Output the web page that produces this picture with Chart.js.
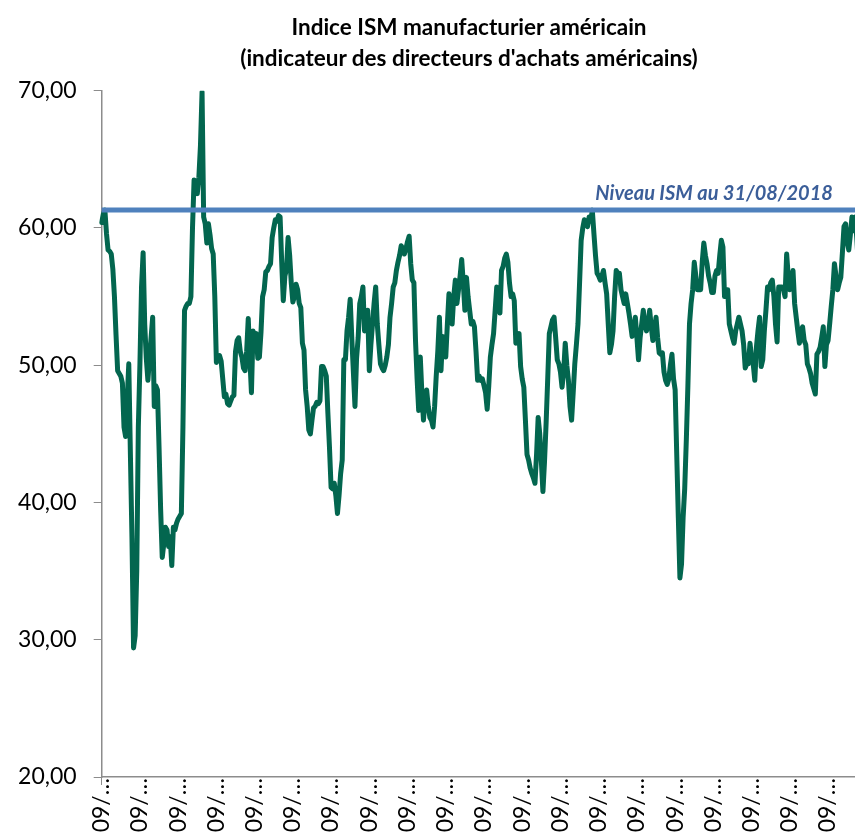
<!DOCTYPE html>
<html>
<head>
<meta charset="utf-8">
<script src="https://cdn.jsdelivr.net/npm/chart.js@4/dist/chart.umd.min.js"></script>
<style>
  html, body { margin: 0; padding: 0; background: #fff; }
  body { width: 855px; height: 832px; overflow: hidden; position: relative; }
  #titre {
    position: absolute; left: 0; top: 12px; width: 938px;
    text-align: center; font: bold 22.5px/30.7px Lato, sans-serif; color: #000;
  }
  #ismChart { position: absolute; left: 0; top: 0; }
</style>
</head>
<body>
<canvas id="ismChart" width="880" height="832"></canvas>
<div id="titre"></div>
<script>
// indice ISM manufacturier, mensuel, de 09/1978 à 08/2018
var anneeDebut = 1978;
var moisDebut = 9;
var ism = [
  60.4, 61.0, 61.3, 59.6,
  58.4, 58.3, 58.1, 57.0, 55.0, 52.2, 49.6, 49.4, 49.2, 48.7, 45.5, 44.8,
  47.5, 50.1, 43.6, 37.4,
  29.4, 30.3, 35.0, 45.5, 50.1, 55.7, 58.2, 53.0,
  50.5, 48.9, 50.5, 52.0, 53.5, 47.0, 48.5, 48.2, 44.0, 39.5, 36.0,
  37.0, 38.2, 38.0, 36.8, 37.5, 35.4, 38.2, 38.0, 38.5, 38.8, 39.0, 39.2,
  45.5, 54.0, 54.3, 54.5, 54.5, 55.0, 60.0, 63.5, 63.0, 62.5, 63.7, 66.0, 69.9,
  60.8, 60.3, 58.9, 60.3, 59.5, 58.5, 58.1, 55.0, 50.2,
  50.6, 50.7, 50.3, 49.0, 47.7, 47.9, 47.2, 47.1, 47.4, 47.7, 47.8,
  51.0, 51.8, 52.0, 51.0, 50.6, 49.8, 49.6, 51.0, 53.4, 50.5, 48.0, 52.5, 52.0, 52.3, 50.5, 50.6, 52.4,
  55.0, 55.5, 56.8, 56.9, 57.2, 57.4, 59.3, 60.0, 60.6, 60.5, 60.9, 60.8,
  57.5, 54.7, 56.5, 57.0, 59.3, 58.0, 56.0, 54.6, 55.0, 55.9, 55.5, 54.5, 54.2,
  51.6, 51.1, 48.2, 47.0, 45.3, 45.0, 46.0, 46.9, 47.0, 47.3, 47.2, 47.4, 49.9, 49.9, 49.6,
  49.2, 46.5, 44.0, 41.1, 41.0, 41.4, 40.5, 39.2, 40.5, 42.1, 43.1, 50.4, 50.4, 52.5, 53.5, 54.8,
  52.0, 49.5, 47.0, 50.5, 52.0, 54.5, 55.0, 55.7, 52.5, 53.0, 54.0, 49.6, 51.5, 53.0, 54.5, 55.7,
  53.0, 51.5, 50.1, 49.8, 49.6, 50.0, 50.6, 51.5, 53.5, 54.5, 55.7, 56.0, 56.9, 57.5, 58.0, 58.7, 58.5, 58.1, 58.5, 59.0, 59.4,
  57.4, 56.2, 56.0, 51.8, 49.0, 46.7, 50.6, 48.0, 46.0, 47.5, 48.2, 47.0, 46.2, 46.0, 45.5, 47.0, 49.2, 51.0, 53.5,
  49.6, 52.1, 51.5, 50.6, 53.0, 55.2, 54.0, 53.0, 55.0, 56.2, 54.5, 55.5, 56.5, 57.7, 56.0, 54.0, 56.4, 55.0, 54.0, 53.0, 53.2, 52.8, 51.0,
  48.9, 49.2, 48.9, 49.0, 48.5, 48.0, 46.8, 48.5, 50.6, 51.5, 52.3, 54.0, 55.7, 54.5, 53.8, 56.9, 57.2, 57.8, 58.1, 57.5, 56.0, 55.0, 55.2, 54.7,
  51.6, 52.0, 52.3, 49.9, 49.0, 48.4, 46.0, 43.5, 43.1, 42.5, 42.1, 41.8, 41.4, 43.5, 46.2, 45.0, 43.0, 40.8, 43.0, 45.8,
  49.0, 52.3, 52.8, 53.3, 53.5, 52.0, 50.4, 50.1, 49.5, 48.4, 49.5, 51.6, 50.0, 48.9, 47.0, 46.0, 48.0, 50.1, 51.5, 53.0,
  56.0, 59.1, 60.0, 60.6, 60.4, 60.1, 60.8, 60.5, 61.3, 59.6, 58.0, 56.7, 56.5, 56.2, 56.5, 56.9, 56.0, 55.2, 53.0, 50.9,
  51.5, 52.5, 55.0, 56.9, 56.7, 56.7, 55.5, 55.0, 54.5, 55.2, 54.5, 53.8, 53.0, 52.1, 52.5, 53.5, 52.0, 50.4, 52.0, 53.0,
  54.0, 53.0, 52.5, 53.0, 54.0, 52.8, 51.8, 52.5, 53.5, 52.0, 50.9, 50.8, 50.9, 49.5, 48.9, 48.6, 49.0, 50.0, 50.8, 49.0,
  48.2, 43.5, 38.9, 34.5, 35.5, 38.9, 41.0, 44.5, 48.5, 53.0, 54.5, 55.5, 57.5, 56.5, 55.5, 55.5, 55.5, 57.5, 58.9, 58.0,
  57.4, 56.5, 56.0, 55.3, 55.3, 56.5, 56.9, 56.7, 58.0, 59.1, 58.6, 55.0, 55.5, 55.5, 53.0, 52.5, 52.0, 51.6, 52.5, 53.0,
  53.5, 53.0, 52.5, 51.5, 49.8, 50.1, 50.1, 51.6, 50.5, 50.1, 48.9, 51.3, 52.5, 53.5, 49.9, 50.4, 52.5, 54.0, 55.7, 55.5,
  56.0, 56.2, 55.0, 53.0, 51.7, 55.7, 55.7, 55.7, 55.5, 55.0, 58.1, 56.5, 55.5, 56.0, 56.9, 54.5, 53.5, 52.5, 51.6, 52.5,
  52.8, 51.8, 51.5, 50.1, 49.8, 49.4, 48.7, 48.3, 47.9, 50.8, 51.0, 51.3, 52.0, 52.8, 49.9, 51.5, 51.8, 53.0, 54.3, 55.5,
  57.4, 56.5, 55.5, 56.0, 56.4, 58.2, 60.1, 60.3, 59.0, 58.4, 59.5, 60.8, 59.8, 60.8, 59.3, 57.3, 58.7, 60.2, 58.1, 61.3
];
var niveauActuel = 61.3;
var texteNiveau = 'Niveau ISM au 31/08/2018';
var titre = ['Indice ISM manufacturier américain', "(indicateur des directeurs d'achats américains)"];
var pasEtiquettes = 24;   // une étiquette tous les 2 ans
var yMin = 20, yMax = 70, yPas = 10;

var mois = ism.map(function (v, i) {
  var k = moisDebut - 1 + i;
  var mm = String(k % 12 + 1).padStart(2, '0');
  return mm + '/' + (anneeDebut + Math.floor(k / 12));
});

var gris = '#8c8c8c';

var etiquetteNiveau = {
  id: 'etiquetteNiveau',
  afterDatasetsDraw: function (chart) {
    var ctx = chart.ctx, x = chart.scales.x, y = chart.scales.y;
    ctx.save();
    ctx.font = 'italic bold 20px Lato';
    ctx.fillStyle = '#3B5E99';
    ctx.textAlign = 'right';
    ctx.textBaseline = 'alphabetic';
    ctx.fillText(texteNiveau, x.getPixelForValue(459), y.getPixelForValue(niveauActuel) - 10);
    ctx.restore();
  }
};

window.onload = function () {
  var t = document.getElementById('titre');
  titre.forEach(function (ligne) {
    var d = document.createElement('div');
    d.textContent = ligne;
    t.appendChild(d);
  });

  var chartArea = document.getElementById('ismChart').getContext('2d');
  var myChart = new Chart(chartArea, {
    type: 'line',
    data: {
      labels: mois,
      datasets: [{
        data: [{ x: mois[0], y: niveauActuel }, { x: mois[mois.length - 1], y: niveauActuel }],
        borderColor: '#4F81BD',
        borderWidth: 5,
        pointRadius: 0,
        order: 0
      }, {
        data: ism,
        borderColor: '#03664F',
        borderWidth: 5,
        borderJoinStyle: 'round',
        borderCapStyle: 'round',
        pointRadius: 0,
        tension: 0,
        order: 1
      }]
    },
    options: {
      responsive: false,
      animation: false,
      layout: { padding: { left: 0, right: 15.3, top: 90.7, bottom: 0 } },
      plugins: {
        legend: { display: false },
        tooltip: { enabled: false },
        title: { display: false }
      },
      scales: {
        x: {
          offset: false,
          grid: {
            drawOnChartArea: false,
            tickLength: 8,
            color: function (c) { return c.index % pasEtiquettes === 0 ? gris : 'rgba(0,0,0,0)'; }
          },
          border: { color: gris, width: 1.5 },
          ticks: {
            autoSkip: false,
            minRotation: 90,
            maxRotation: 90,
            padding: -7,
            color: '#000',
            font: { family: 'Lato', size: 23 },
            callback: function (v, i) { return i % pasEtiquettes === 0 ? mois[i].slice(0, 3) + '…' : null; }
          },
          afterFit: function (s) { s.height = 55; }
        },
        y: {
          min: yMin,
          max: yMax,
          grid: { drawOnChartArea: false, tickLength: 8, color: gris },
          border: { color: gris, width: 1.5 },
          ticks: {
            stepSize: yPas,
            padding: 17,
            color: '#000',
            font: { family: 'Lato', size: 23 },
            callback: function (v) { return v.toFixed(2).replace('.', ','); }
          },
          afterFit: function (s) { s.width = 101.7; }
        }
      }
    },
    plugins: [etiquetteNiveau]
  });
};
</script>
</body>
</html>
